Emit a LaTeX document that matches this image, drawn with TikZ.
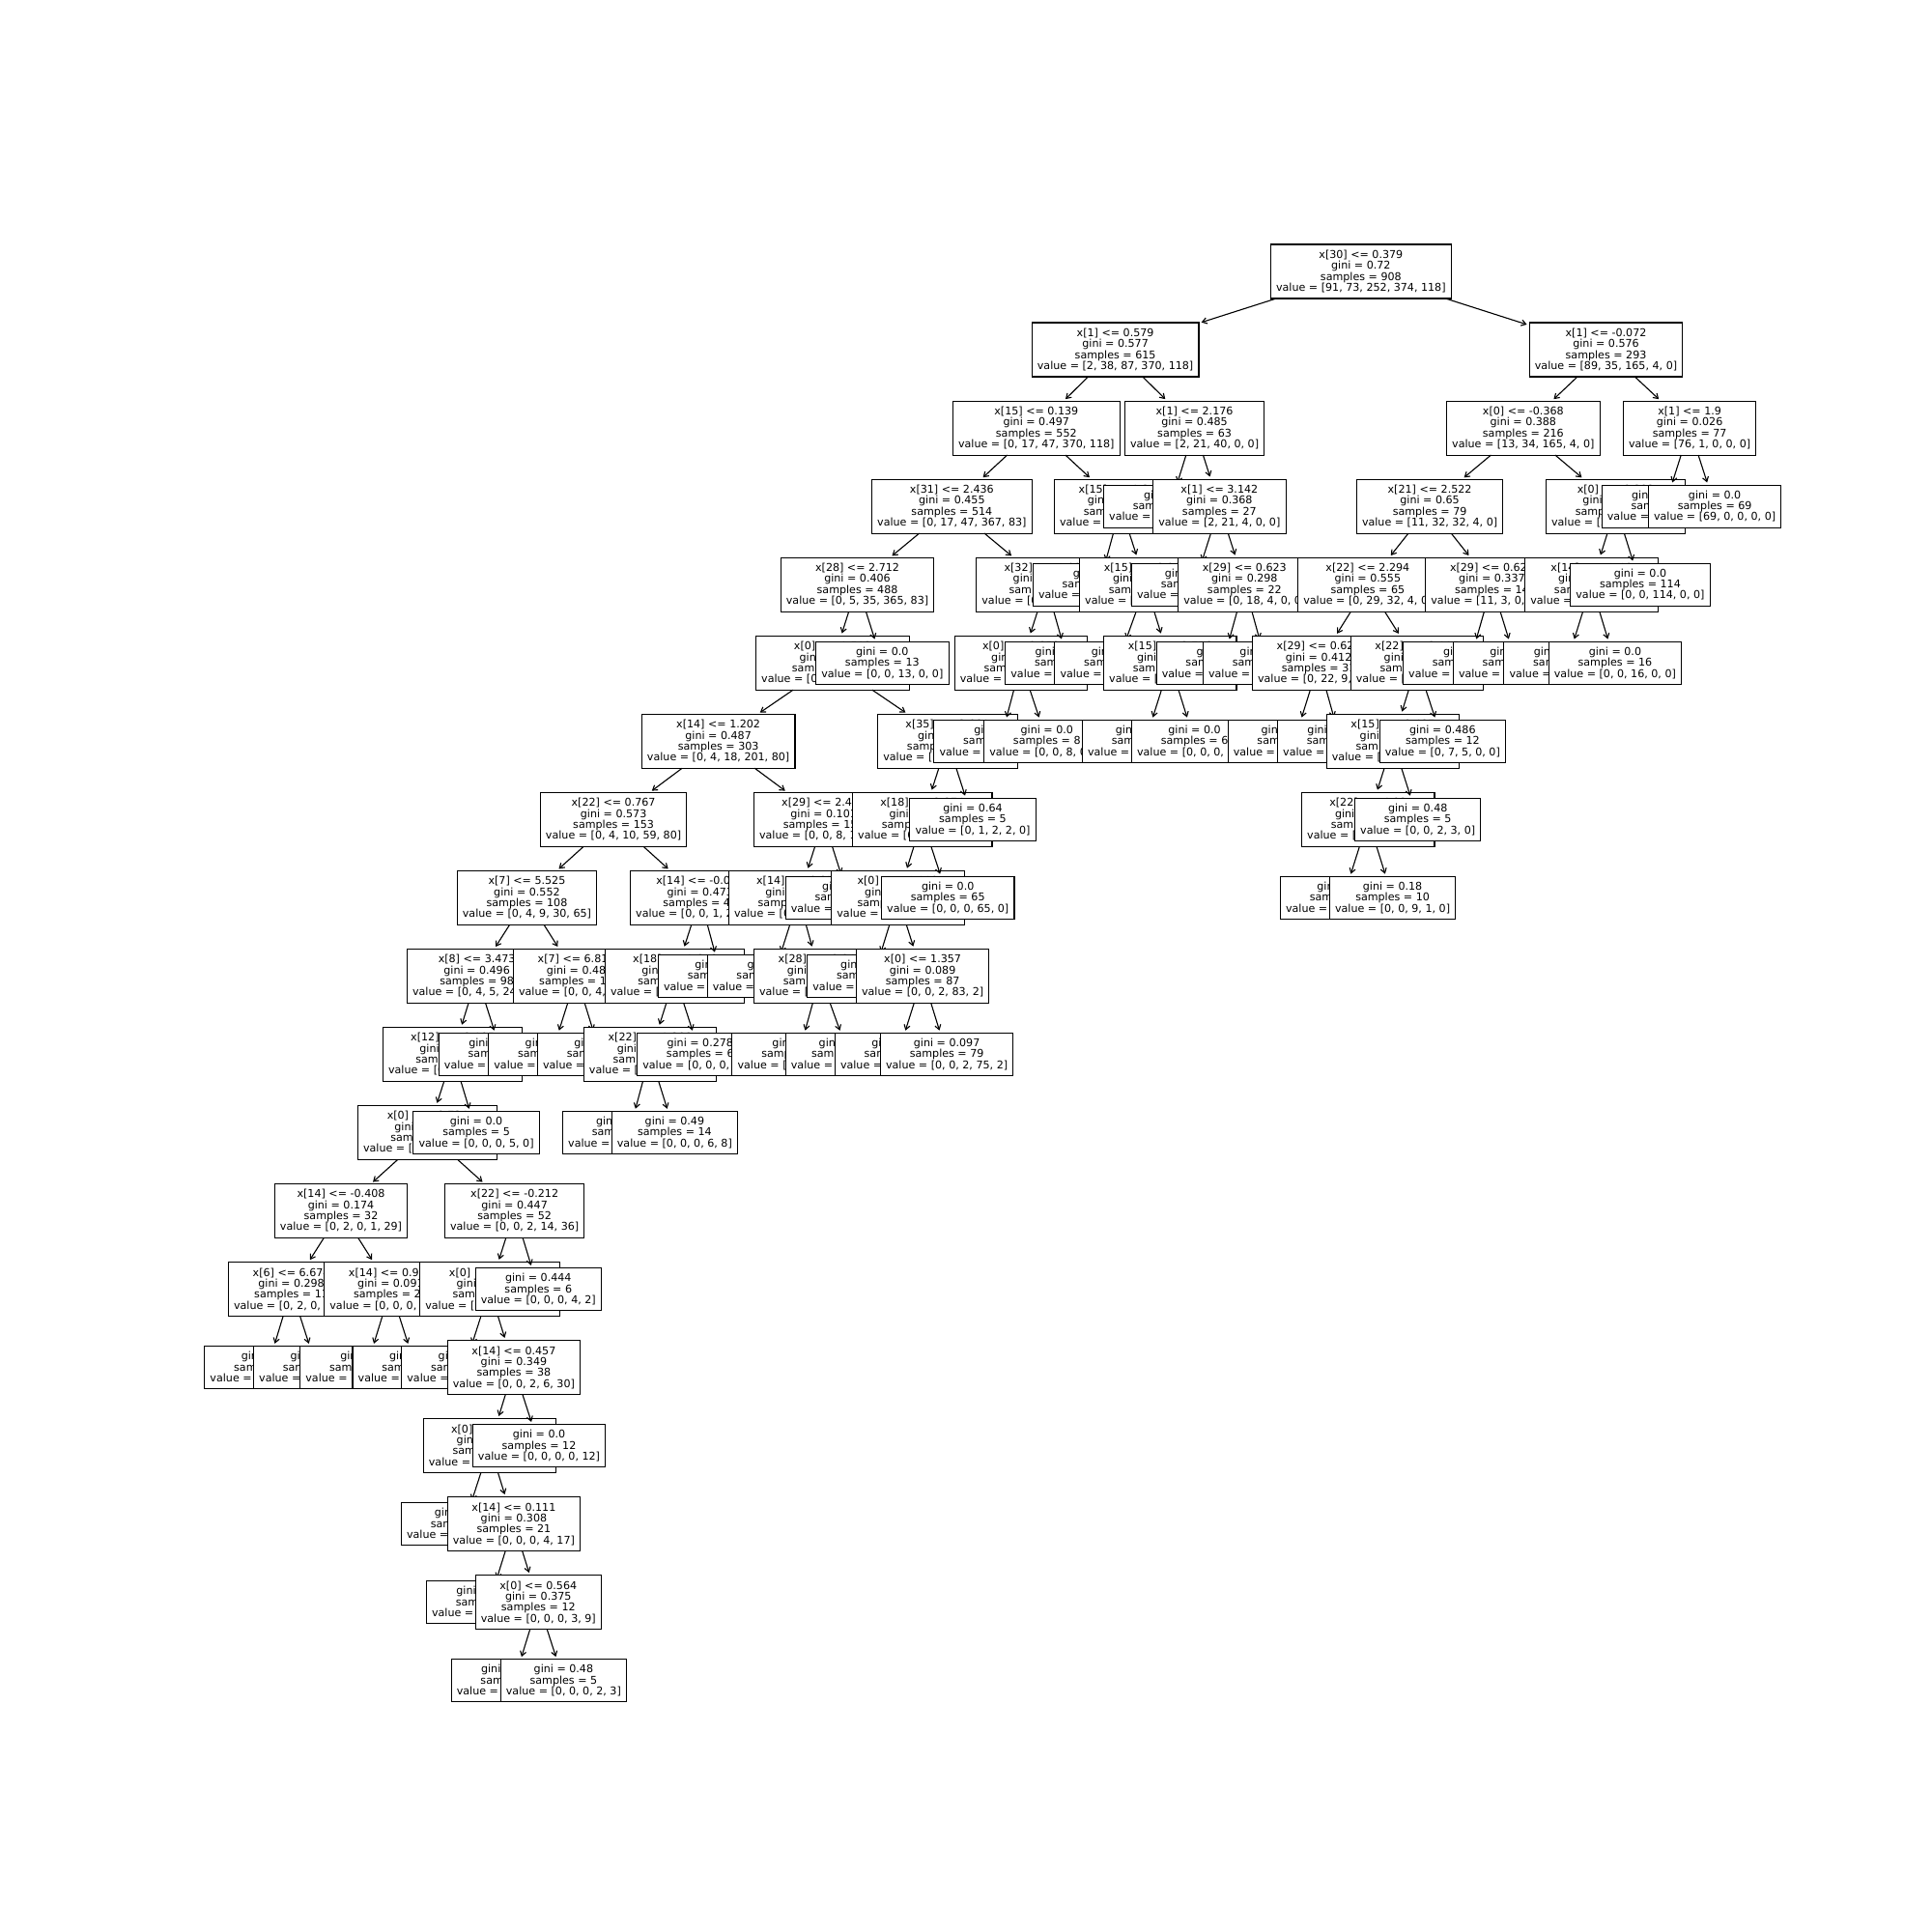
\documentclass[tikz,border=0pt]{standalone}
\usepackage{fontspec}
\newfontfamily\treefont{DejaVu Sans}
\usetikzlibrary{arrows.meta}
\newcommand{\dsplit}[4]{#1\\gini = #2\\samples = #3\\value = [#4]}
\newcommand{\dleaf}[3]{gini = #1\\samples = #2\\value = [#3]}

\begin{document}
\begin{tikzpicture}[x=0.72pt, y=-58.349pt,
    decision/.style={draw, fill=white, line width=0.8pt, anchor=west, outer sep=0pt,
      inner xsep=4.1pt, inner ysep=0pt, minimum height=40.3pt, align=center,
      font=\treefont\fontsize{8pt}{8.16pt}\selectfont},
    leafbox/.style={decision, minimum height=31.7pt},
    link/.style={-{Straight Barb[length=3.4pt,width=4.4pt]}, line width=0.8pt, shorten >=2pt}]
  \useasboundingbox (0,-3.4674) rectangle (2000,21.2118);
  % root and left branch
  \node[decision] (n0) at (1315.4,0) {\dsplit{x[30] <= 0.379}{0.72}{908}{91, 73, 252, 374, 118}};
  \node[decision] (n1) at (1068.2,1) {\dsplit{x[1] <= 0.579}{0.577}{615}{2, 38, 87, 370, 118}};
  \draw[link] (n0) -- (n1);
  \node[decision] (n2) at (986.4,2) {\dsplit{x[15] <= 0.139}{0.497}{552}{0, 17, 47, 370, 118}};
  \draw[link] (n1) -- (n2);
  \node[decision] (n3) at (902.5,3) {\dsplit{x[31] <= 2.436}{0.455}{514}{0, 17, 47, 367, 83}};
  \draw[link] (n2) -- (n3);
  \node[decision] (n4) at (808.2,4) {\dsplit{x[28] <= 2.712}{0.406}{488}{0, 5, 35, 365, 83}};
  \draw[link] (n3) -- (n4);
  \node[decision] (n5) at (782.5,5) {\dsplit{x[0] <= 1.519}{0.377}{475}{0, 5, 22, 365, 83}};
  \draw[link] (n4) -- (n5);
  \node[decision] (n6) at (664.3,6) {\dsplit{x[14] <= 1.202}{0.487}{303}{0, 4, 18, 201, 80}};
  \draw[link] (n5) -- (n6);
  \node[decision] (n7) at (559.3,7) {\dsplit{x[22] <= 0.767}{0.573}{153}{0, 4, 10, 59, 80}};
  \draw[link] (n6) -- (n7);
  \node[decision] (n8) at (473.2,8) {\dsplit{x[7] <= 5.525}{0.552}{108}{0, 4, 9, 30, 65}};
  \draw[link] (n7) -- (n8);
  \node[decision] (n9) at (421.4,9) {\dsplit{x[8] <= 3.473}{0.496}{98}{0, 4, 5, 24, 65}};
  \draw[link] (n8) -- (n9);
  \node[decision] (n10) at (396.4,10) {\dsplit{x[12] <= 2.105}{0.415}{89}{0, 2, 2, 20, 65}};
  \draw[link] (n9) -- (n10);
  \node[decision] (n11) at (370.4,11) {\dsplit{x[0] <= -0.734}{0.368}{84}{0, 2, 2, 15, 65}};
  \draw[link] (n10) -- (n11);
  \node[decision] (n12) at (284.3,12) {\dsplit{x[14] <= -0.408}{0.174}{32}{0, 2, 0, 1, 29}};
  \draw[link] (n11) -- (n12);
  \node[decision] (n13) at (236.4,13) {\dsplit{x[6] <= 6.674}{0.298}{11}{0, 2, 0, 0, 9}};
  \draw[link] (n12) -- (n13);
  \node[leafbox] (n14) at (211.8,14) {\dleaf{0.0}{2}{0, 2, 0, 0, 0}};
  \draw[link] (n13) -- (n14);
  \node[leafbox] (n15) at (262.5,14) {\dleaf{0.0}{9}{0, 0, 0, 0, 9}};
  \draw[link] (n13) -- (n15);
  \node[decision] (n16) at (335.7,13) {\dsplit{x[14] <= 0.938}{0.091}{21}{0, 0, 0, 1, 20}};
  \draw[link] (n12) -- (n16);
  \node[leafbox] (n17) at (310.7,14) {\dleaf{0.0}{19}{0, 0, 0, 0, 19}};
  \draw[link] (n16) -- (n17);
  \node[leafbox] (n18) at (365,14) {\dleaf{0.5}{2}{0, 0, 0, 1, 1}};
  \draw[link] (n16) -- (n18);
  \node[decision] (n19) at (460.4,12) {\dsplit{x[22] <= -0.212}{0.447}{52}{0, 0, 2, 14, 36}};
  \draw[link] (n11) -- (n19);
  \node[decision] (n20) at (434.6,13) {\dsplit{x[0] <= -0.517}{0.405}{46}{0, 0, 2, 10, 34}};
  \draw[link] (n19) -- (n20);
  \node[leafbox] (n21) at (415.7,14) {\dleaf{0.5}{8}{0, 0, 0, 4, 4}};
  \draw[link] (n20) -- (n21);
  \node[decision] (n22) at (463.2,14) {\dsplit{x[14] <= 0.457}{0.349}{38}{0, 0, 2, 6, 30}};
  \draw[link] (n20) -- (n22);
  \node[decision] (n23) at (438.2,15) {\dsplit{x[0] <= 0.166}{0.462}{26}{0, 0, 2, 6, 18}};
  \draw[link] (n22) -- (n23);
  \node[leafbox] (n24) at (415.4,16) {\dleaf{0.64}{5}{0, 0, 2, 2, 1}};
  \draw[link] (n23) -- (n24);
  \node[decision] (n25) at (463.2,16) {\dsplit{x[14] <= 0.111}{0.308}{21}{0, 0, 0, 4, 17}};
  \draw[link] (n23) -- (n25);
  \node[leafbox] (n26) at (441.4,17) {\dleaf{0.198}{9}{0, 0, 0, 1, 8}};
  \draw[link] (n25) -- (n26);
  \node[decision] (n27) at (492.1,17) {\dsplit{x[0] <= 0.564}{0.375}{12}{0, 0, 0, 3, 9}};
  \draw[link] (n25) -- (n27);
  \node[leafbox] (n28) at (467.1,18) {\dleaf{0.245}{7}{0, 0, 0, 1, 6}};
  \draw[link] (n27) -- (n28);
  \node[leafbox] (n29) at (518.2,18) {\dleaf{0.48}{5}{0, 0, 0, 2, 3}};
  \draw[link] (n27) -- (n29);
  \node[leafbox] (n30) at (489.3,15) {\dleaf{0.0}{12}{0, 0, 0, 0, 12}};
  \draw[link] (n22) -- (n30);
  \node[leafbox] (n31) at (492.1,13) {\dleaf{0.444}{6}{0, 0, 0, 4, 2}};
  \draw[link] (n19) -- (n31);
  \node[leafbox] (n32) at (427.9,11) {\dleaf{0.0}{5}{0, 0, 0, 5, 0}};
  \draw[link] (n10) -- (n32);
  \node[leafbox] (n33) at (454.3,10) {\dleaf{0.642}{9}{0, 2, 3, 4, 0}};
  \draw[link] (n9) -- (n33);
  \node[decision] (n34) at (531.4,9) {\dsplit{x[7] <= 6.812}{0.48}{10}{0, 0, 4, 6, 0}};
  \draw[link] (n8) -- (n34);
  \node[leafbox] (n35) at (505.7,10) {\dleaf{0.0}{4}{0, 0, 4, 0, 0}};
  \draw[link] (n34) -- (n35);
  \node[leafbox] (n36) at (556.4,10) {\dleaf{0.0}{6}{0, 0, 0, 6, 0}};
  \draw[link] (n34) -- (n36);
  \node[decision] (n37) at (652.5,8) {\dsplit{x[14] <= -0.038}{0.473}{45}{0, 0, 1, 29, 15}};
  \draw[link] (n7) -- (n37);
  \node[decision] (n38) at (626.4,9) {\dsplit{x[18] <= 1.646}{0.411}{40}{0, 0, 1, 29, 10}};
  \draw[link] (n37) -- (n38);
  \node[decision] (n39) at (604.3,10) {\dsplit{x[22] <= 1.308}{0.431}{34}{0, 0, 1, 24, 9}};
  \draw[link] (n38) -- (n39);
  \node[leafbox] (n40) at (582.5,11) {\dleaf{0.185}{20}{0, 0, 1, 18, 1}};
  \draw[link] (n39) -- (n40);
  \node[leafbox] (n41) at (633.2,11) {\dleaf{0.49}{14}{0, 0, 0, 6, 8}};
  \draw[link] (n39) -- (n41);
  \node[leafbox] (n42) at (659.6,10) {\dleaf{0.278}{6}{0, 0, 0, 5, 1}};
  \draw[link] (n38) -- (n42);
  \node[leafbox] (n43) at (681.4,9) {\dleaf{0.0}{5}{0, 0, 0, 0, 5}};
  \draw[link] (n37) -- (n43);
  \node[decision] (n44) at (780.4,7) {\dsplit{x[29] <= 2.417}{0.101}{150}{0, 0, 8, 142, 0}};
  \draw[link] (n6) -- (n44);
  \node[decision] (n45) at (754.3,8) {\dsplit{x[14] <= 0.276}{0.105}{144}{0, 0, 8, 136, 0}};
  \draw[link] (n44) -- (n45);
  \node[leafbox] (n46) at (732.1,9) {\dleaf{0.0}{90}{0, 0, 0, 90, 0}};
  \draw[link] (n45) -- (n46);
  \node[decision] (n47) at (780.4,9) {\dsplit{x[28] <= 0.943}{0.252}{54}{0, 0, 8, 46, 0}};
  \draw[link] (n45) -- (n47);
  \node[leafbox] (n48) at (757.9,10) {\dleaf{0.0}{40}{0, 0, 0, 40, 0}};
  \draw[link] (n47) -- (n48);
  \node[leafbox] (n49) at (813.2,10) {\dleaf{0.49}{14}{0, 0, 8, 6, 0}};
  \draw[link] (n47) -- (n49);
  \node[leafbox] (n50) at (813.2,8) {\dleaf{0.0}{6}{0, 0, 0, 6, 0}};
  \draw[link] (n44) -- (n50);
  \node[decision] (n51) at (908.6,6) {\dsplit{x[35] <= 3.081}{0.09}{172}{0, 1, 4, 164, 3}};
  \draw[link] (n5) -- (n51);
  \node[decision] (n52) at (882.5,7) {\dsplit{x[18] <= 2.874}{0.059}{167}{0, 0, 2, 162, 3}};
  \draw[link] (n51) -- (n52);
  \node[decision] (n53) at (860.7,8) {\dsplit{x[0] <= -1.112}{0.094}{102}{0, 0, 2, 97, 3}};
  \draw[link] (n52) -- (n53);
  \node[leafbox] (n54) at (835.7,9) {\dleaf{0.124}{15}{0, 0, 0, 14, 1}};
  \draw[link] (n53) -- (n54);
  \node[decision] (n55) at (886.4,9) {\dsplit{x[0] <= 1.357}{0.089}{87}{0, 0, 2, 83, 2}};
  \draw[link] (n53) -- (n55);
  \node[leafbox] (n56) at (864.3,10) {\dleaf{0.0}{8}{0, 0, 0, 8, 0}};
  \draw[link] (n55) -- (n56);
  \node[leafbox] (n57) at (911.4,10) {\dleaf{0.097}{79}{0, 0, 2, 75, 2}};
  \draw[link] (n55) -- (n57);
  \node[leafbox] (n58) at (912.5,8) {\dleaf{0.0}{65}{0, 0, 0, 65, 0}};
  \draw[link] (n52) -- (n58);
  \node[leafbox] (n59) at (941.8,7) {\dleaf{0.64}{5}{0, 1, 2, 2, 0}};
  \draw[link] (n51) -- (n59);
  \node[leafbox] (n60) at (844.6,5) {\dleaf{0.0}{13}{0, 0, 13, 0, 0}};
  \draw[link] (n4) -- (n60);
  \node[decision] (n61) at (1010.7,4) {\dsplit{x[32] <= 1.027}{0.568}{26}{0, 12, 12, 2, 0}};
  \draw[link] (n3) -- (n61);
  \node[decision] (n62) at (988.2,5) {\dsplit{x[0] <= 0.853}{0.48}{20}{0, 12, 8, 0, 0}};
  \draw[link] (n61) -- (n62);
  \node[leafbox] (n63) at (966.8,6) {\dleaf{0.0}{12}{0, 12, 0, 0, 0}};
  \draw[link] (n62) -- (n63);
  \node[leafbox] (n64) at (1018.6,6) {\dleaf{0.0}{8}{0, 0, 8, 0, 0}};
  \draw[link] (n62) -- (n64);
  \node[leafbox] (n65) at (1040.7,5) {\dleaf{0.444}{6}{0, 0, 4, 2, 0}};
  \draw[link] (n61) -- (n65);
  \node[decision] (n66) at (1091.4,3) {\dsplit{x[15] <= 1.341}{0.145}{38}{0, 0, 0, 3, 35}};
  \draw[link] (n2) -- (n66);
  \node[leafbox] (n67) at (1069.3,4) {\dleaf{0.0}{20}{0, 0, 0, 0, 20}};
  \draw[link] (n66) -- (n67);
  \node[decision] (n68) at (1117.5,4) {\dsplit{x[15] <= 2.209}{0.278}{18}{0, 0, 0, 3, 15}};
  \draw[link] (n66) -- (n68);
  \node[leafbox] (n69) at (1091.8,5) {\dleaf{0.0}{5}{0, 0, 0, 0, 5}};
  \draw[link] (n68) -- (n69);
  \node[decision] (n70) at (1142.5,5) {\dsplit{x[15] <= 2.756}{0.355}{13}{0, 0, 0, 3, 10}};
  \draw[link] (n68) -- (n70);
  \node[leafbox] (n71) at (1120.4,6) {\dleaf{0.49}{7}{0, 0, 0, 3, 4}};
  \draw[link] (n70) -- (n71);
  \node[leafbox] (n72) at (1171.4,6) {\dleaf{0.0}{6}{0, 0, 0, 0, 6}};
  \draw[link] (n70) -- (n72);
  \node[decision] (n73) at (1164.3,2) {\dsplit{x[1] <= 2.176}{0.485}{63}{2, 21, 40, 0, 0}};
  \draw[link] (n1) -- (n73);
  \node[leafbox] (n74) at (1142.5,3) {\dleaf{0.0}{36}{0, 0, 36, 0, 0}};
  \draw[link] (n73) -- (n74);
  \node[decision] (n75) at (1193.6,3) {\dsplit{x[1] <= 3.142}{0.368}{27}{2, 21, 4, 0, 0}};
  \draw[link] (n73) -- (n75);
  \node[leafbox] (n76) at (1171.4,4) {\dleaf{0.48}{5}{2, 3, 0, 0, 0}};
  \draw[link] (n75) -- (n76);
  \node[decision] (n77) at (1219.6,4) {\dsplit{x[29] <= 0.623}{0.298}{22}{0, 18, 4, 0, 0}};
  \draw[link] (n75) -- (n77);
  \node[leafbox] (n78) at (1197.1,5) {\dleaf{0.0}{18}{0, 18, 0, 0, 0}};
  \draw[link] (n77) -- (n78);
  \node[leafbox] (n79) at (1245.4,5) {\dleaf{0.0}{4}{0, 0, 4, 0, 0}};
  \draw[link] (n77) -- (n79);
  % right branch
  \node[decision] (n80) at (1583.2,1) {\dsplit{x[1] <= -0.072}{0.576}{293}{89, 35, 165, 4, 0}};
  \draw[link] (n0) -- (n80);
  \node[decision] (n81) at (1497.5,2) {\dsplit{x[0] <= -0.368}{0.388}{216}{13, 34, 165, 4, 0}};
  \draw[link] (n80) -- (n81);
  \node[decision] (n82) at (1404.3,3) {\dsplit{x[21] <= 2.522}{0.65}{79}{11, 32, 32, 4, 0}};
  \draw[link] (n81) -- (n82);
  \node[decision] (n83) at (1343.6,4) {\dsplit{x[22] <= 2.294}{0.555}{65}{0, 29, 32, 4, 0}};
  \draw[link] (n82) -- (n83);
  \node[decision] (n84) at (1296.4,5) {\dsplit{x[29] <= 0.624}{0.412}{31}{0, 22, 9, 0, 0}};
  \draw[link] (n83) -- (n84);
  \node[leafbox] (n85) at (1271.1,6) {\dleaf{0.165}{22}{0, 20, 2, 0, 0}};
  \draw[link] (n84) -- (n85);
  \node[leafbox] (n86) at (1322.5,6) {\dleaf{0.346}{9}{0, 2, 7, 0, 0}};
  \draw[link] (n84) -- (n86);
  \node[decision] (n87) at (1398.2,5) {\dsplit{x[22] <= 3.115}{0.486}{34}{0, 7, 23, 4, 0}};
  \draw[link] (n83) -- (n87);
  \node[decision] (n88) at (1373.2,6) {\dsplit{x[15] <= 0.487}{0.298}{22}{0, 0, 18, 4, 0}};
  \draw[link] (n87) -- (n88);
  \node[decision] (n89) at (1347.5,7) {\dsplit{x[22] <= 4.02}{0.111}{17}{0, 0, 16, 1, 0}};
  \draw[link] (n88) -- (n89);
  \node[leafbox] (n90) at (1325.4,8) {\dleaf{0.0}{7}{0, 0, 7, 0, 0}};
  \draw[link] (n89) -- (n90);
  \node[leafbox] (n91) at (1376.4,8) {\dleaf{0.18}{10}{0, 0, 9, 1, 0}};
  \draw[link] (n89) -- (n91);
  \node[leafbox] (n92) at (1402.5,7) {\dleaf{0.48}{5}{0, 0, 2, 3, 0}};
  \draw[link] (n88) -- (n92);
  \node[leafbox] (n93) at (1428.2,6) {\dleaf{0.486}{12}{0, 7, 5, 0, 0}};
  \draw[link] (n87) -- (n93);
  \node[decision] (n94) at (1475.7,4) {\dsplit{x[29] <= 0.627}{0.337}{14}{11, 3, 0, 0, 0}};
  \draw[link] (n82) -- (n94);
  \node[leafbox] (n95) at (1452.5,5) {\dleaf{0.0}{11}{11, 0, 0, 0, 0}};
  \draw[link] (n94) -- (n95);
  \node[leafbox] (n96) at (1504.3,5) {\dleaf{0.0}{3}{0, 3, 0, 0, 0}};
  \draw[link] (n94) -- (n96);
  \node[decision] (n97) at (1600.4,3) {\dsplit{x[0] <= 0.392}{0.057}{137}{2, 2, 133, 0, 0}};
  \draw[link] (n81) -- (n97);
  \node[decision] (n98) at (1578.6,4) {\dsplit{x[14] <= -1.46}{0.302}{23}{2, 2, 19, 0, 0}};
  \draw[link] (n97) -- (n98);
  \node[leafbox] (n99) at (1556.8,5) {\dleaf{0.653}{7}{2, 2, 3, 0, 0}};
  \draw[link] (n98) -- (n99);
  \node[leafbox] (n100) at (1603.2,5) {\dleaf{0.0}{16}{0, 0, 16, 0, 0}};
  \draw[link] (n98) -- (n100);
  \node[leafbox] (n101) at (1625.7,4) {\dleaf{0.0}{114}{0, 0, 114, 0, 0}};
  \draw[link] (n97) -- (n101);
  \node[decision] (n102) at (1680.4,2) {\dsplit{x[1] <= 1.9}{0.026}{77}{76, 1, 0, 0, 0}};
  \draw[link] (n80) -- (n102);
  \node[leafbox] (n103) at (1658.2,3) {\dleaf{0.219}{8}{7, 1, 0, 0, 0}};
  \draw[link] (n102) -- (n103);
  \node[leafbox] (n104) at (1706.4,3) {\dleaf{0.0}{69}{69, 0, 0, 0, 0}};
  \draw[link] (n102) -- (n104);
\end{tikzpicture}
\end{document}
